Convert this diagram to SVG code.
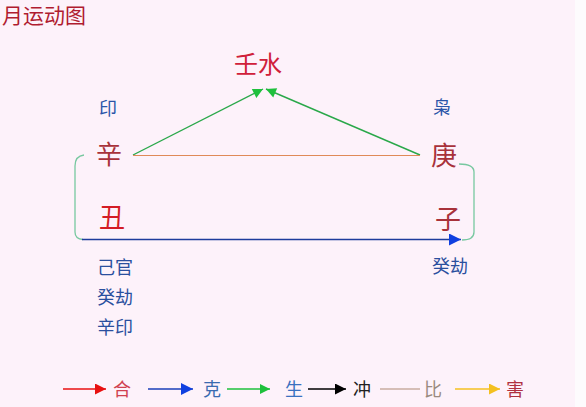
<svg xmlns="http://www.w3.org/2000/svg" width="586" height="407" viewBox="0 0 586 407">
<defs>
<style>
text{font-family:"Noto Sans CJK SC","Noto Sans",sans-serif;}
.title{font-size:21px;fill:#b01c30;}
.big{font-size:26px;fill:#a8323a;}
.red{font-size:26px;fill:#d41c24;}
.shen{font-size:18px;fill:#2a55a8;}
.lab{font-size:18px;fill:#2a4f9e;}
.leg{font-size:18px;}
</style>
<marker id="mg" viewBox="0 0 10 10" refX="10" refY="5" markerWidth="12" markerHeight="10" markerUnits="userSpaceOnUse" orient="auto"><path d="M0,0 L10,5 L0,10 z" fill="#1ec03c"/></marker>
<marker id="mb" viewBox="0 0 10 10" refX="10" refY="5" markerWidth="13" markerHeight="12" markerUnits="userSpaceOnUse" orient="auto"><path d="M0,0 L10,5 L0,10 z" fill="#1040e0"/></marker>
<marker id="mr" viewBox="0 0 10 10" refX="10" refY="5" markerWidth="13" markerHeight="11" markerUnits="userSpaceOnUse" orient="auto"><path d="M0,0 L10,5 L0,10 z" fill="#e81010"/></marker>
<marker id="mk" viewBox="0 0 10 10" refX="10" refY="5" markerWidth="13" markerHeight="11" markerUnits="userSpaceOnUse" orient="auto"><path d="M0,0 L10,5 L0,10 z" fill="#000"/></marker>
<marker id="my" viewBox="0 0 10 10" refX="10" refY="5" markerWidth="13" markerHeight="11" markerUnits="userSpaceOnUse" orient="auto"><path d="M0,0 L10,5 L0,10 z" fill="#f4c020"/></marker>
</defs>
<rect x="0" y="0" width="586" height="407" fill="#fdfbfd"/>
<rect x="0" y="0" width="575" height="407" fill="#fdf2fa"/>
<text class="title" x="2" y="23">月运动图</text>
<g id="connectors" fill="none">
<line x1="133" y1="155" x2="263" y2="89" stroke="#2aa84a" stroke-width="1.4" marker-end="url(#mg)"/>
<line x1="420" y1="155" x2="266" y2="89" stroke="#2aa84a" stroke-width="1.4" marker-end="url(#mg)"/>
<line x1="133" y1="155.5" x2="420" y2="155.5" stroke="#e08a58" stroke-width="1.2"/>
<path d="M84,155 Q75,156 75,166 L75,232 Q75,239 83,239.5" stroke="#78c8a0" stroke-width="1.3"/>
<path d="M459,164 Q474,164 474,172 L474,232 Q474,240 462,240" stroke="#78c8a0" stroke-width="1.3"/>
<line x1="82" y1="239.5" x2="461" y2="239.5" stroke="#1e3c9c" stroke-width="1.6" marker-end="url(#mb)"/>
</g>
<g id="node-renshui"><text class="red" style="font-size:24px;fill:#d0203a" x="234" y="73">壬水</text></g>
<g id="node-yin"><text class="shen" x="99" y="115">印</text></g>
<g id="node-xin"><text class="big" x="96" y="164">辛</text></g>
<g id="node-xiao"><text class="shen" x="433" y="114">枭</text></g>
<g id="node-geng"><text class="big" x="431" y="165">庚</text></g>
<g id="node-chou"><text class="red" x="99" y="227">丑</text></g>
<g id="node-zi"><text class="big" x="435" y="229">子</text></g>
<g id="node-chou-hidden">
<text class="lab" x="97" y="274">己官</text>
<text class="lab" x="97" y="304">癸劫</text>
<text class="lab" x="97" y="334">辛印</text>
</g>
<g id="node-zi-hidden"><text class="lab" x="432" y="273">癸劫</text></g>
<g id="legend">
<line x1="63" y1="389" x2="106" y2="389" stroke="#e81010" stroke-width="1.6" marker-end="url(#mr)"/>
<text class="leg" x="113" y="396" fill="#d04050">合</text>
<line x1="148" y1="389" x2="193" y2="389" stroke="#1a3fb8" stroke-width="1.6" marker-end="url(#mb)"/>
<text class="leg" x="203" y="396" fill="#3a6ab0">克</text>
<line x1="227" y1="389" x2="270" y2="389" stroke="#1ec03c" stroke-width="1.6" marker-end="url(#mg)"/>
<text class="leg" x="285" y="396" fill="#3a70c0">生</text>
<line x1="308" y1="389" x2="346" y2="389" stroke="#000" stroke-width="1.6" marker-end="url(#mk)"/>
<text class="leg" x="353" y="396" fill="#202020">冲</text>
<line x1="380" y1="389" x2="420" y2="389" stroke="#c8aca0" stroke-width="1.6"/>
<text class="leg" x="424" y="396" fill="#9a8a80">比</text>
<line x1="455" y1="389" x2="500" y2="389" stroke="#f4c020" stroke-width="1.6" marker-end="url(#my)"/>
<text class="leg" x="506" y="396" fill="#b03040">害</text>
</g>
</svg>
